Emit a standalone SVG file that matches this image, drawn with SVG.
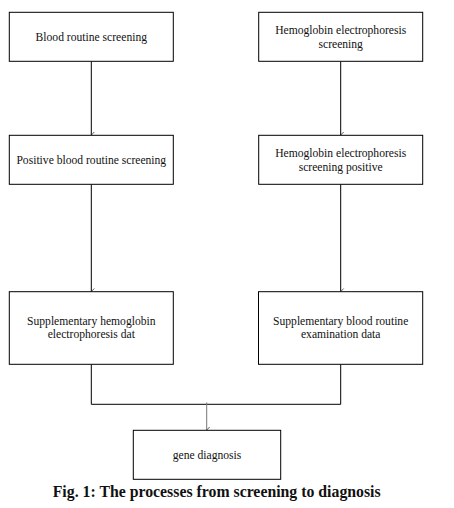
<svg xmlns="http://www.w3.org/2000/svg" width="454" height="508" viewBox="0 0 454 508">
<defs>
<marker id="arr" markerWidth="8" markerHeight="6" refX="4" refY="5" orient="auto" markerUnits="userSpaceOnUse" viewBox="0 0 8 6">
<path d="M1,2 L4,5 L7,2" fill="none" stroke="#333" stroke-width="0.8"/>
</marker>
</defs>
<style>
.box{fill:#fff;stroke:#000;stroke-width:1}
.t{font-size:11.6px;fill:#111;text-anchor:middle}
.c{fill:none;stroke:#000;stroke-width:1}
.g{fill:none;stroke:#777;stroke-width:1}
.cap{font-size:15.8px;font-weight:bold;fill:#111;text-anchor:middle}
</style>
<rect width="454" height="508" fill="#fff"/>
<g id="connectors">
<line class="c" x1="91.3" y1="61.3" x2="91.3" y2="135" marker-end="url(#arr)"/>
<line class="c" x1="340.7" y1="61.3" x2="340.7" y2="135" marker-end="url(#arr)"/>
<line class="c" x1="91.3" y1="184.3" x2="91.3" y2="291.5" marker-end="url(#arr)"/>
<line class="c" x1="340.7" y1="184.3" x2="340.7" y2="291.5" marker-end="url(#arr)"/>
<polyline class="c" points="91.3,364.3 91.3,404.3 340.7,404.3 340.7,364.3"/>
<line class="g" x1="206.7" y1="402.5" x2="206.7" y2="430" marker-end="url(#arr)"/>
</g>
<g font-family="'Liberation Serif', 'Times New Roman', Times, serif">
<g id="n1"><rect class="box" x="9.3" y="12.3" width="164" height="49"/><text class="t" x="91.3" y="40.7">Blood routine screening</text></g>
<g id="n2"><rect class="box" x="258.7" y="12.3" width="164" height="49"/><text class="t" x="340.7" y="34">Hemoglobin electrophoresis</text><text class="t" x="340.7" y="47.6">screening</text></g>
<g id="n3"><rect class="box" x="9.3" y="135.3" width="164" height="49"/><text class="t" x="91.3" y="163.7">Positive blood routine screening</text></g>
<g id="n4"><rect class="box" x="258.7" y="135.3" width="164" height="49"/><text class="t" x="340.7" y="157">Hemoglobin electrophoresis</text><text class="t" x="340.7" y="170.5">screening positive</text></g>
<g id="n5"><rect class="box" x="9.3" y="291.7" width="164" height="72.6"/><text class="t" x="91.3" y="324.6">Supplementary hemoglobin</text><text class="t" x="91.3" y="338">electrophoresis dat</text></g>
<g id="n6"><rect class="box" x="258.5" y="291.7" width="164.2" height="72.6"/><text class="t" x="340.7" y="324.6">Supplementary blood routine</text><text class="t" x="340.7" y="338">examination data</text></g>
<g id="n7"><rect class="box" x="133.3" y="430.3" width="147.4" height="49"/><text class="t" x="207" y="458.7">gene diagnosis</text></g>
<text class="cap" x="216.7" y="497">Fig. 1: The processes from screening to diagnosis</text>
</g>
</svg>
